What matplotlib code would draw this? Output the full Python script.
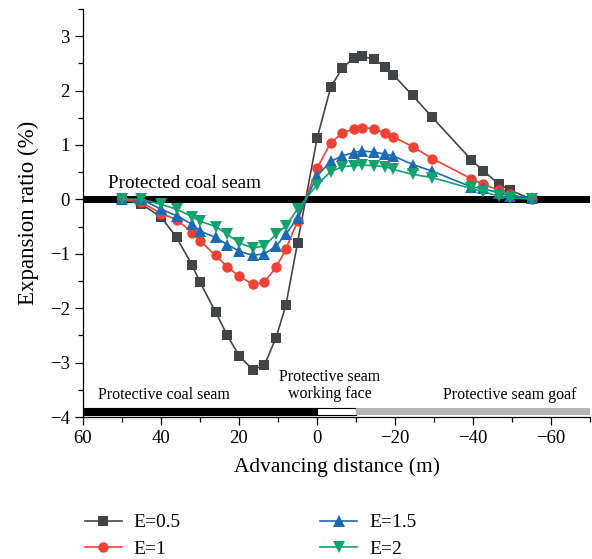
import numpy as np
import matplotlib
matplotlib.use('Agg')
import matplotlib.pyplot as plt
from matplotlib.ticker import MultipleLocator
from matplotlib.patches import Rectangle

plt.rcParams['font.family'] = ['Liberation Serif', 'DejaVu Serif']
plt.rcParams['axes.unicode_minus'] = True

# advancing distance of the monitoring points (m)
dist = [50, 45, 40, 36, 32, 30, 26, 23, 20, 16.5, 13.5, 10.5, 8, 5, 0,
        -3.5, -6.5, -9.5, -11.5, -14.5, -17.5, -19.5, -24.5, -29.5,
        -39.5, -42.5, -46.5, -49.5, -55]

# expansion ratio (%) for each elastic modulus ratio
e05 = [0, -0.09, -0.32, -0.70, -1.21, -1.52, -2.07, -2.50, -2.87, -3.13, -3.05, -2.54, -1.95, -0.80, 1.12,
       2.06, 2.42, 2.60, 2.63, 2.58, 2.43, 2.29, 1.91, 1.51,
       0.73, 0.53, 0.29, 0.17, 0.0]
e10 = [0, -0.05, -0.26, -0.37, -0.61, -0.76, -1.03, -1.24, -1.41, -1.56, -1.52, -1.25, -0.92, -0.40, 0.57,
       1.04, 1.22, 1.30, 1.32, 1.30, 1.22, 1.15, 0.97, 0.75,
       0.38, 0.28, 0.17, 0.09, 0.0]
e15 = [0, 0.0, -0.18, -0.30, -0.46, -0.58, -0.70, -0.83, -0.95, -1.03, -1.00, -0.86, -0.64, -0.34, 0.43,
       0.70, 0.80, 0.86, 0.89, 0.87, 0.83, 0.80, 0.64, 0.52,
       0.23, 0.20, 0.12, 0.06, 0.03]
e20 = [0, 0.0, -0.09, -0.18, -0.32, -0.40, -0.50, -0.64, -0.80, -0.89, -0.86, -0.64, -0.49, -0.18, 0.27,
       0.51, 0.60, 0.62, 0.63, 0.62, 0.60, 0.55, 0.46, 0.40,
       0.20, 0.14, 0.06, 0.03, 0.0]

series = [
    ('E=0.5', e05, '#424547', 's', 7.0),
    ('E=1', e10, '#EE4236', 'o', 7.5),
    ('E=1.5', e15, '#1B6AB8', '^', 8.5),
    ('E=2', e20, '#12A26E', 'v', 8.5),
]

fig = plt.figure(figsize=(5.92, 5.59), dpi=100)
ax = fig.add_axes([0.140, 0.254, 0.857, 0.730])

# protected coal seam band at zero
ax.axhspan(-0.07, 0.07, color='k', lw=0, zorder=1)

# protective coal seam state along the bottom
ax.add_patch(Rectangle((60, -3.97), -60, 0.13, facecolor='k', edgecolor='k', lw=0.8, zorder=2))
ax.add_patch(Rectangle((0, -3.97), -10, 0.13, facecolor='white', edgecolor='k', lw=0.8, zorder=2))
ax.add_patch(Rectangle((-10, -3.97), -60, 0.13, facecolor='#B3B5B6', edgecolor='none', zorder=2))

for lab, vals, col, mk, ms in series:
    ax.plot(dist, vals, color=col, marker=mk, markersize=ms, lw=1.2, label=lab, zorder=3,
            markeredgewidth=0)

ax.set_xlim(60, -70)
ax.set_ylim(-4, 3.5)
ax.xaxis.set_major_locator(MultipleLocator(20))
ax.xaxis.set_minor_locator(MultipleLocator(10))
ax.yaxis.set_major_locator(MultipleLocator(1))
ax.yaxis.set_minor_locator(MultipleLocator(0.5))
ax.tick_params(which='major', direction='out', length=6, width=0.9, labelsize=13.5)
ax.tick_params(which='minor', direction='out', length=3.5, width=0.9)
ax.spines['top'].set_visible(False)
ax.spines['right'].set_visible(False)
ax.spines['left'].set_linewidth(0.9)
ax.spines['bottom'].set_linewidth(0.9)

ax.set_xlabel('Advancing distance (m)', fontsize=15.4, labelpad=7)
ax.set_ylabel('Expansion ratio (%)', fontsize=16.5, labelpad=8)

ax.text(53.5, 0.14, 'Protected coal seam', fontsize=13.8, ha='left', va='bottom')
ax.text(56, -3.6, 'Protective coal seam', fontsize=11.5, ha='left', va='center')
ax.text(-3.3, -3.42, 'Protective seam\nworking face', fontsize=11.5, ha='center', va='center',
        linespacing=1.05)
ax.text(-66.5, -3.6, 'Protective seam goaf', fontsize=11.5, ha='right', va='center')

ax.legend(loc='upper left', bbox_to_anchor=(-0.012, -0.218), ncol=2, frameon=False,
          fontsize=14, handlelength=1.9, handletextpad=0.6, columnspacing=7.2,
          labelspacing=0.45, borderaxespad=0)

fig.savefig('out.png', dpi=100)
